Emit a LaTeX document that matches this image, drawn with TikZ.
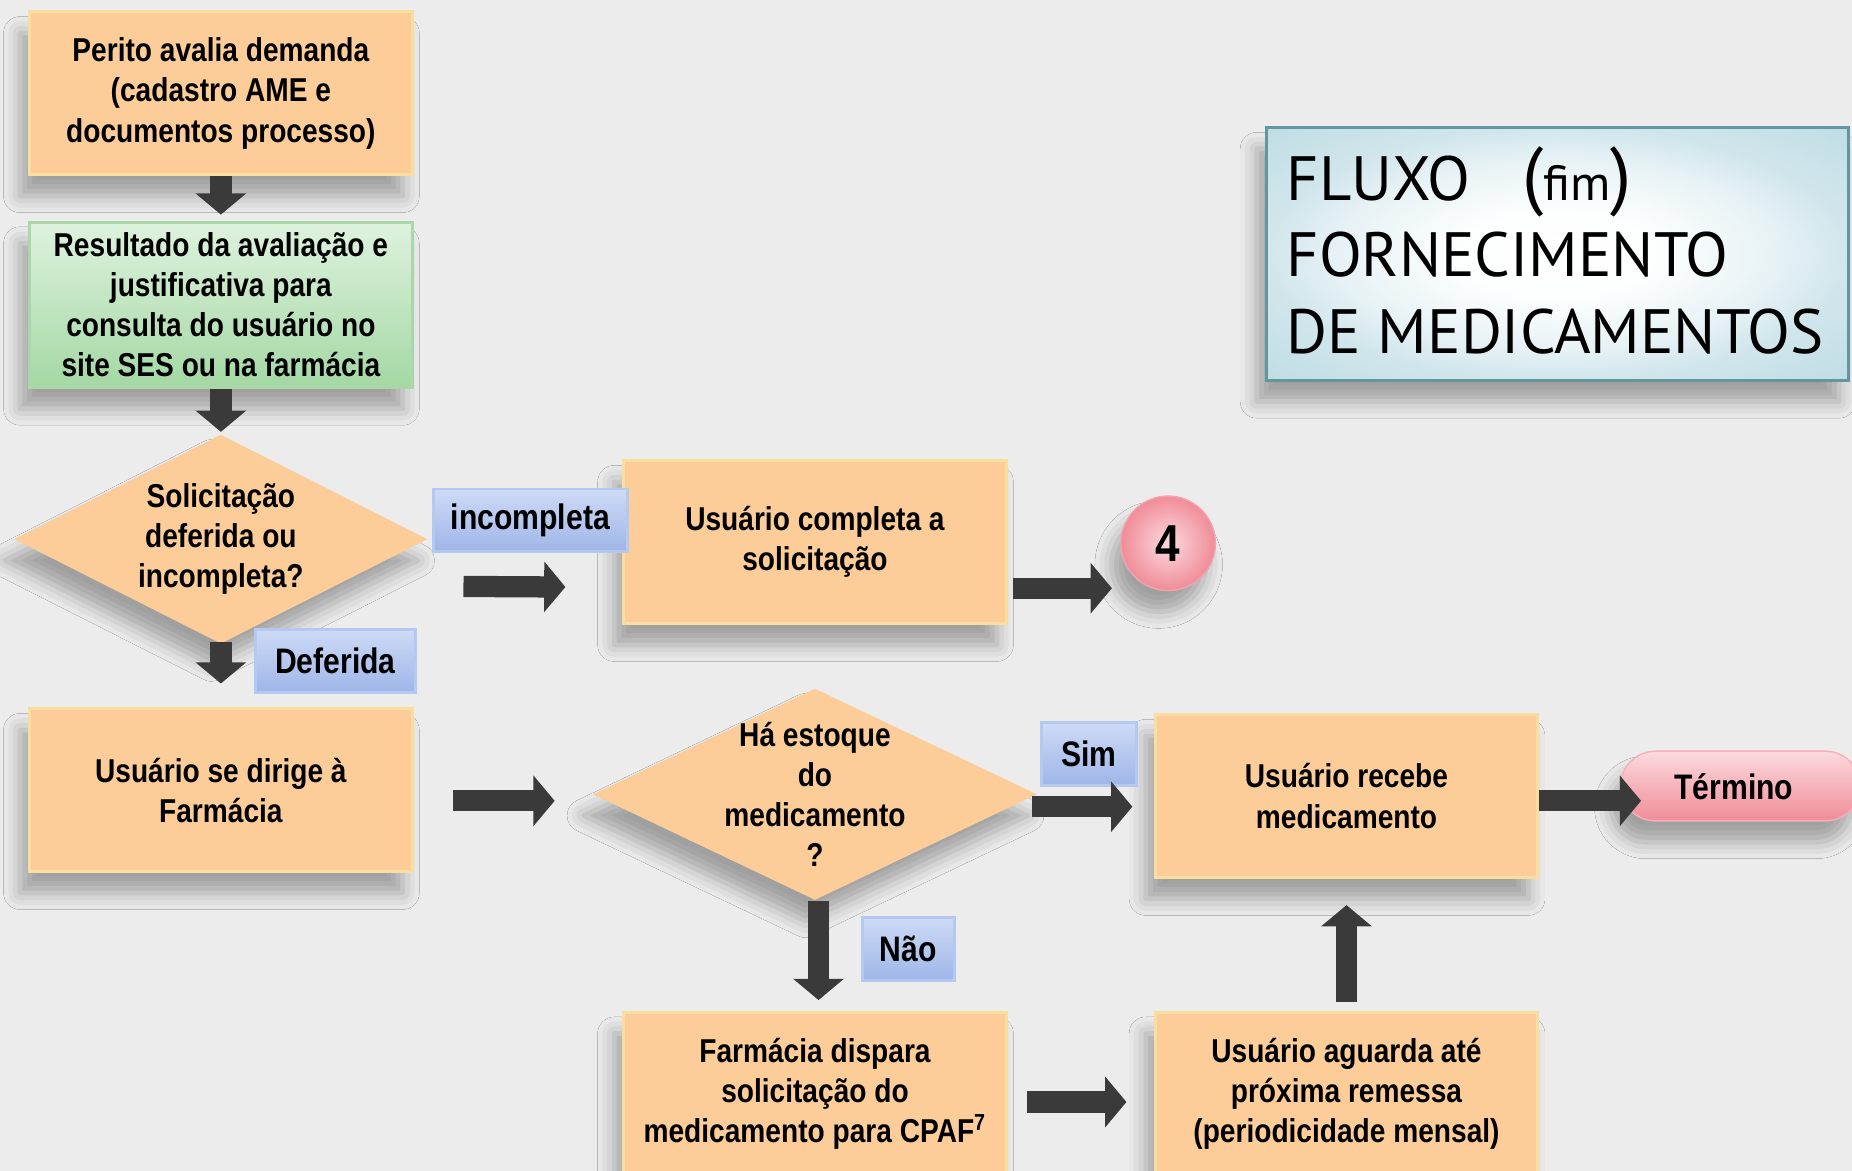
\documentclass[tikz,border=0pt]{standalone}
\usepackage{fontspec}
\newfontfamily\boxfont{Liberation Sans}[FakeStretch=0.85]
\newfontfamily\titlefont{PT Sans}
\usetikzlibrary{shapes.geometric,shapes.misc,arrows.meta,shadows.blur}
\definecolor{bgc}{RGB}{236,236,236}
\definecolor{peach}{RGB}{252,204,153}
\definecolor{peachedge}{RGB}{250,222,160}
\definecolor{greentop}{RGB}{222,242,222}
\definecolor{greenbot}{RGB}{164,216,164}
\definecolor{greenedge}{RGB}{170,215,170}
\definecolor{bluetop}{RGB}{206,218,246}
\definecolor{bluebot}{RGB}{158,182,232}
\definecolor{blueedge}{RGB}{180,200,240}
\definecolor{pinklight}{RGB}{252,218,222}
\definecolor{pinkdark}{RGB}{240,140,152}
\definecolor{titleedge}{RGB}{100,150,160}
\definecolor{titleblue}{RGB}{190,220,228}
\definecolor{arrowgray}{RGB}{58,58,58}
\pgfdeclareradialshading{titleshade}{\pgfpoint{0bp}{0bp}}{color(0bp)=(white); color(9bp)=(white!96!titleblue); color(19bp)=(white!62!titleblue); color(25bp)=(white!28!titleblue); color(36bp)=(titleblue)}
\tikzset{
  shad/.style={blur shadow={shadow xshift=-4pt, shadow yshift=-9pt, shadow blur radius=7pt, shadow opacity=32}},
  txt/.style={font=\boxfont\bfseries\fontsize{14}{17}\selectfont, align=center, text=black},
  orangebox/.style={txt, shad, fill=peach, draw=peachedge, line width=1.3pt, minimum width=162pt, minimum height=69pt, inner sep=0pt},
  greenbox/.style={txt, shad, top color=greentop, bottom color=greenbot, draw=greenedge, line width=1.3pt, minimum width=162pt, minimum height=70pt, inner sep=0pt},
  decision/.style={shape=diamond, shad, fill=peach, inner sep=0pt},
  dtext/.style={txt, inner sep=0pt},
  tag/.style={font=\boxfont\bfseries\fontsize{15}{17}\selectfont, text=black, top color=bluetop, bottom color=bluebot, draw=blueedge, line width=1.2pt, minimum height=26.5pt, inner sep=0pt},
  blk/.style={line width=9pt, draw=arrowgray, -{Triangle[width=21pt,length=9pt]}},
}
\begin{document}
\begin{tikzpicture}[x=0.5pt,y=-0.5pt]
\useasboundingbox (0,0) rectangle (1568,991);
\fill[bgc] (0,0) rectangle (1568,991);

% title
\node[shad, draw=titleedge, line width=1.2pt, shading=titleshade,
      minimum width=246.5pt, minimum height=107pt, inner sep=0pt] (title) at (1318.5,215) {};
\node[font=\titlefont\fontsize{26.5}{32.5}\selectfont, align=left, anchor=west, inner sep=0pt] (titletxt) at (1089,212)
  {FLUXO\hspace{22pt}{\fontsize{32}{32}\selectfont(}{\fontsize{21}{21}\selectfont fim}{\fontsize{32}{32}\selectfont)}\\FORNECIMENTO\\DE MEDICAMENTOS};

% nodes
\node[orangebox] (b1) at (187,79) {Perito avalia demanda\\(cadastro AME e\\documentos processo)};
\node[greenbox] (b2) at (187,258) {Resultado da avaliação e\\justificativa para\\consulta do usuário no\\site SES ou na farmácia};
\node[decision, minimum width=175pt, minimum height=88.5pt] (d1) at (187,456.5) {};
\node[dtext] (d1t) at (d1.center) {Solicitação\\deferida ou\\incompleta?};
\node[orangebox] (cb) at (690,459) {Usuário completa a\\solicitação};
\node[shad, circle, inner color=pinklight, outer color=pinkdark, draw=pinkdark!80, line width=0.6pt,
      minimum size=40pt, inner sep=0pt, font=\boxfont\bfseries\fontsize{22}{22}\selectfont] (c4) at (989,460) {4};
\node[orangebox] (b3) at (187,669) {Usuário se dirige à\\Farmácia};
\node[decision, minimum width=188pt, minimum height=89.5pt] (d2) at (690,672.5) {};
\node[dtext] (d2t) at (d2.center) {Há estoque\\do\\medicamento\\?};
\node[orangebox] (b4) at (1140,674) {Usuário recebe\\medicamento};
\node[shad, rounded rectangle, top color=pinklight, bottom color=pinkdark, draw=pinkdark!70, line width=0.6pt,
      minimum width=101.5pt, minimum height=29.5pt, inner sep=0pt, font=\boxfont\bfseries\fontsize{15}{17}\selectfont] (term) at (1473.5,665.5) {};
\node[inner sep=0pt, font=\boxfont\bfseries\fontsize{15}{17}\selectfont] (termt) at (1468,666) {Término};
\node[orangebox] (b5) at (690,926) {Farmácia dispara\\solicitação do\\medicamento para CPAF\textsuperscript{7}};
\node[orangebox] (b6) at (1140,926) {Usuário aguarda até\\próxima remessa\\(periodicidade mensal)};

% tags
\node[tag, minimum width=82pt] (tinc) at (449,440.5) {incompleta};
\node[tag, minimum width=68pt] (tdef) at (284,559.5) {Deferida};
\node[tag, minimum width=40pt] (tsim) at (922,638.5) {Sim};
\node[tag, minimum width=39pt] (tnao) at (769,803.5) {Não};

% arrows
\draw[blk, shorten >=2.5pt] (b1.south) -- (b2.north);
\draw[blk, shorten >=1pt] (b2.south) -- (d1.north);
\draw[blk] ([xshift=15pt,yshift=-20pt]d1.east) -- ([xshift=-24pt,yshift=-19pt]cb.west);
\draw[blk] ([xshift=2pt,yshift=-19.5pt]cb.east) -- ([xshift=-3.5pt,yshift=-19pt]c4.west);
\draw[blk, shorten <=-1pt, shorten >=10pt] (d1.south) -- (b3.north);
\draw[blk] ([xshift=16.5pt,yshift=-4.5pt]b3.east) -- ([xshift=-16pt,yshift=-2.75pt]d2.west);
\draw[blk] ([xshift=-2.5pt,yshift=-5.25pt]d2.east) -- ([xshift=-9pt,yshift=-4.5pt]b4.west);
\draw[blk] ([yshift=-2pt]b4.east) -- ([xshift=9pt,yshift=-6.25pt]term.west);
\draw[blk, shorten >=4.5pt] ([xshift=1.5pt]d2.south) -- ([xshift=1.5pt]b5.north);
\draw[blk] ([xshift=8pt,yshift=-3.5pt]b5.east) -- ([xshift=-11.5pt,yshift=-3.5pt]b6.west);
\draw[blk, shorten <=3.5pt, shorten >=11pt] (b6.north) -- (b4.south);
\end{tikzpicture}
\end{document}
